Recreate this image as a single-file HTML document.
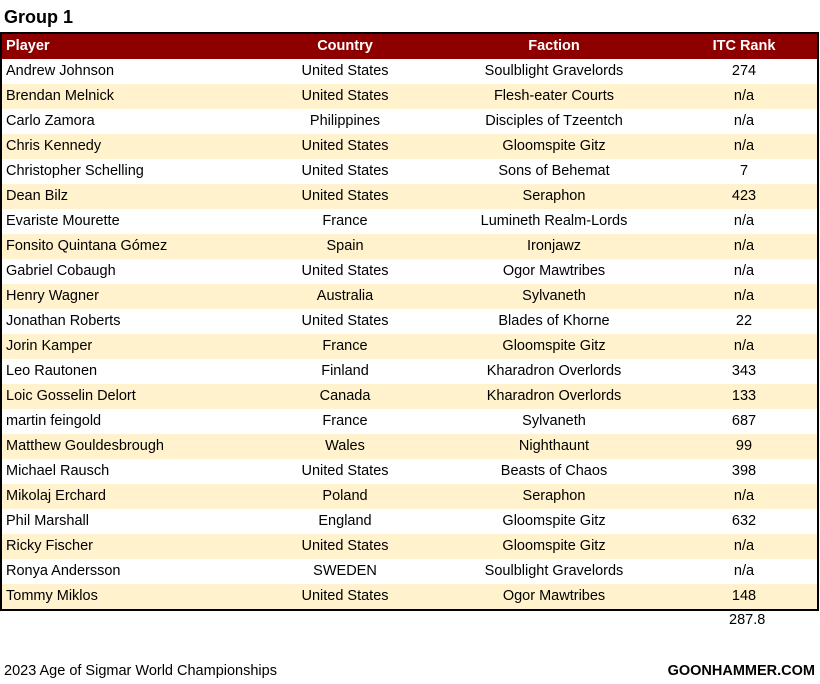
<!DOCTYPE html>
<html><head><meta charset="utf-8"><style>
body{margin:0;width:820px;height:684px;background:#fff;font-family:"Liberation Sans",sans-serif;color:#000;position:relative;overflow:hidden}
.t{position:absolute;left:4px;top:7px;font-size:18px;font-weight:bold}
table{position:absolute;left:0;top:32px;width:819px;border-collapse:collapse;border:2px solid #000;font-size:14.5px}
td,th{height:25px;padding:0;line-height:25px;box-sizing:border-box}
th{background:#8e0000;color:#fff;font-weight:bold;text-align:center;height:24px;line-height:25px}
td{text-align:center}
td:first-child,th:first-child{text-align:left;padding-left:4px}
tr:nth-child(odd) td{background:#fff2cc}
.avg{position:absolute;left:729px;top:612px;font-size:14.5px}
.f1{position:absolute;left:4px;top:663px;font-size:14.5px}
.f2{position:absolute;right:5px;top:663px;font-size:14.5px;font-weight:bold}
</style></head><body>
<div class="t">Group 1</div>
<table>
<colgroup><col style="width:252px"><col style="width:184px"><col style="width:234px"><col></colgroup>
<tr><th>Player</th><th>Country</th><th>Faction</th><th>ITC Rank</th></tr>
<tr><td>Andrew Johnson</td><td>United States</td><td>Soulblight Gravelords</td><td>274</td></tr>
<tr><td>Brendan Melnick</td><td>United States</td><td>Flesh-eater Courts</td><td>n/a</td></tr>
<tr><td>Carlo Zamora</td><td>Philippines</td><td>Disciples of Tzeentch</td><td>n/a</td></tr>
<tr><td>Chris Kennedy</td><td>United States</td><td>Gloomspite Gitz</td><td>n/a</td></tr>
<tr><td>Christopher Schelling</td><td>United States</td><td>Sons of Behemat</td><td>7</td></tr>
<tr><td>Dean Bilz</td><td>United States</td><td>Seraphon</td><td>423</td></tr>
<tr><td>Evariste Mourette</td><td>France</td><td>Lumineth Realm-Lords</td><td>n/a</td></tr>
<tr><td>Fonsito Quintana Gómez</td><td>Spain</td><td>Ironjawz</td><td>n/a</td></tr>
<tr><td>Gabriel Cobaugh</td><td>United States</td><td>Ogor Mawtribes</td><td>n/a</td></tr>
<tr><td>Henry Wagner</td><td>Australia</td><td>Sylvaneth</td><td>n/a</td></tr>
<tr><td>Jonathan Roberts</td><td>United States</td><td>Blades of Khorne</td><td>22</td></tr>
<tr><td>Jorin Kamper</td><td>France</td><td>Gloomspite Gitz</td><td>n/a</td></tr>
<tr><td>Leo Rautonen</td><td>Finland</td><td>Kharadron Overlords</td><td>343</td></tr>
<tr><td>Loic Gosselin Delort</td><td>Canada</td><td>Kharadron Overlords</td><td>133</td></tr>
<tr><td>martin feingold</td><td>France</td><td>Sylvaneth</td><td>687</td></tr>
<tr><td>Matthew Gouldesbrough</td><td>Wales</td><td>Nighthaunt</td><td>99</td></tr>
<tr><td>Michael Rausch</td><td>United States</td><td>Beasts of Chaos</td><td>398</td></tr>
<tr><td>Mikolaj Erchard</td><td>Poland</td><td>Seraphon</td><td>n/a</td></tr>
<tr><td>Phil Marshall</td><td>England</td><td>Gloomspite Gitz</td><td>632</td></tr>
<tr><td>Ricky Fischer</td><td>United States</td><td>Gloomspite Gitz</td><td>n/a</td></tr>
<tr><td>Ronya Andersson</td><td>SWEDEN</td><td>Soulblight Gravelords</td><td>n/a</td></tr>
<tr><td>Tommy Miklos</td><td>United States</td><td>Ogor Mawtribes</td><td>148</td></tr>
</table>
<div class="avg">287.8</div>
<div class="f1">2023 Age of Sigmar World Championships</div>
<div class="f2">GOONHAMMER.COM</div>
</body></html>
